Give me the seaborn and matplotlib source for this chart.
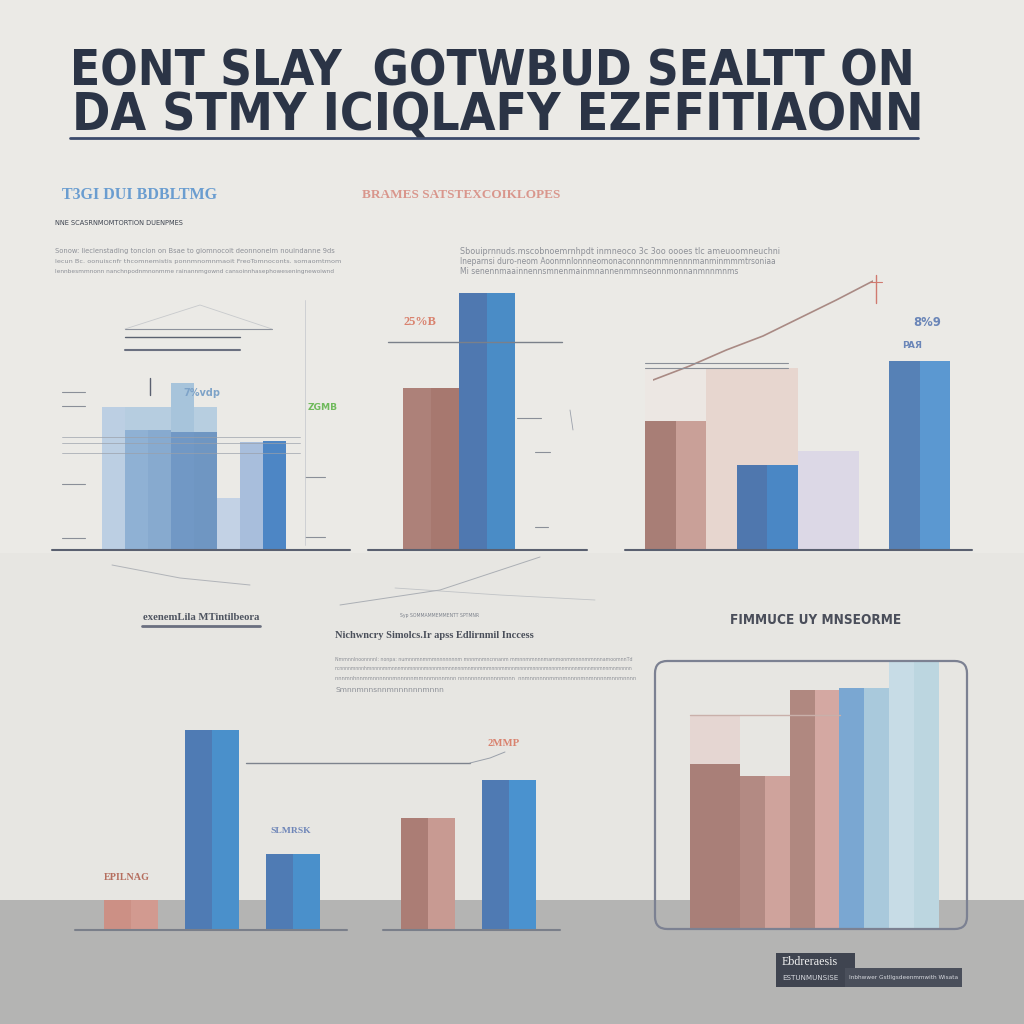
import numpy as np
import pandas as pd
import matplotlib
matplotlib.use("Agg")
import matplotlib.pyplot as plt
import seaborn as sns
from matplotlib.lines import Line2D
from matplotlib.patches import Rectangle, FancyBboxPatch

sns.set_theme(style="white")
plt.rcParams['font.family'] = ['DejaVu Sans']

W = H = 1024
fig = plt.figure(figsize=(10.24, 10.24), dpi=100)
fig.patch.set_facecolor('#ebeae6')
renderer = fig.canvas.get_renderer()


def fx(x):
    return x / W


def fy(y):
    return 1 - y / H


# ---------------- data ----------------
# panel 1 (top left, blues)
p1_slots = ["a1", "a2", "a3", "a4", "a5", "a6", "a7", "a8"]
p1_front = [143, 120, 120, 118, 118, 52, 108, 109]
p1_back = [0, 143, 143, 167, 143, 0, 0, 0]
p1_front_colors = ['#bccfe3', '#8fb1d4', '#87aacf', '#7198c5', '#6f96c2', '#c3d2e5', '#a8bedc', '#4d86c5']
p1_back_colors = ['#bcd0e4', '#a9c6df', '#a9c6df', '#96bbd9', '#aac7df', '#ffffff', '#ffffff', '#ffffff']

# panel 2 (top middle)
p2_slots = ["b1L", "b1R", "b2L", "b2R"]
p2_values = [162, 162, 257, 257]
p2_colors = ['#ad8179', '#a7786f', '#4f78b0', '#4a8cc6']

# panel 3 (top right)
p3_slots = ["c1L", "c1R", "c2", "c3L", "c3R", "c4L", "c4R", "gap", "c5L", "c5R"]
p3_front = [129, 129, 0, 85, 85, 99, 99, 0, 189, 189]
p3_back = [182, 182, 182, 182, 182, 0, 0, 0, 0, 0]
p3_front_colors = ['#a87e76', '#c9a098', '#e7d6cf', '#4f77ae', '#4a87c5', '#dcd8e6', '#dcd8e6',
                   '#ffffff', '#5681b6', '#5b98d1']
p3_back_colors = ['#ece7e3', '#ece7e3', '#e7d6cf', '#e7d6cf', '#e7d6cf', '#ffffff', '#ffffff',
                  '#ffffff', '#ffffff', '#ffffff']
p3_trend = [170, 184, 200, 214, 232, 250, 269]

# panel 4 (bottom left)
p4_slots = ["d1L", "d1R", "g1", "d2L", "d2R", "g2", "d3L", "d3R", "g3", "g4", "g5",
            "d4L", "d4R", "g6", "d5L", "d5R"]
p4_values = [30, 30, 0, 200, 200, 0, 76, 76, 0, 0, 0, 112, 112, 0, 150, 150]
p4_colors = ['#cc9085', '#d29a90', '#ffffff', '#4f7bb4', '#4a90cb', '#ffffff', '#4f7bb4', '#4a90cb',
             '#ffffff', '#ffffff', '#ffffff', '#ab7d75', '#c89a92', '#ffffff', '#4f7ab3', '#4a92cf']

# panel 5 (bottom right, framed)
p5_slots = ["e1L", "e1R", "e2L", "e2R", "e3L", "e3R", "e4L", "e4R", "e5L", "e5R"]
p5_front = [165, 165, 153, 153, 239, 239, 241, 241, 267, 267]
p5_back = [214, 214, 0, 0, 0, 0, 0, 0, 0, 0]
p5_front_colors = ['#a97f78', '#a97f78', '#b38a83', '#cfa39c', '#b08880', '#d4a8a2',
                   '#7aa7d2', '#a9c9dc', '#c7dce6', '#bcd6e0']
p5_back_colors = ['#e5d6d2'] * 10

# ---------------- background ----------------
fig.add_artist(Rectangle((0, fy(900)), 1, (900 - 553) / H, transform=fig.transFigure,
                         facecolor='#e7e6e2', edgecolor='none', zorder=-10))
fig.add_artist(Rectangle((0, 0), 1, (1024 - 900) / H, transform=fig.transFigure,
                         facecolor='#b4b4b3', edgecolor='none', zorder=-9))


def hline(x0, x1, y, color, lw=1.0, alpha=1.0, z=5):
    fig.add_artist(Line2D([fx(x0), fx(x1)], [fy(y), fy(y)], transform=fig.transFigure,
                          color=color, lw=lw, alpha=alpha, zorder=z))


def pline(xs, ys, color, lw=1.0, alpha=1.0, z=5):
    fig.add_artist(Line2D([fx(x) for x in xs], [fy(y) for y in ys], transform=fig.transFigure,
                          color=color, lw=lw, alpha=alpha, zorder=z))


def panel_axes(x0, unit, n, base, top=300):
    ax = fig.add_axes([fx(x0), fy(base), n * unit / W, top / H])
    ax.set_axis_off()
    ax.patch.set_alpha(0)
    return ax


def bars(ax, slots, values, colors, alpha=1.0):
    df = pd.DataFrame({'slot': slots, 'value': values})
    sns.barplot(data=df, x='slot', y='value', hue='slot', order=slots, hue_order=slots,
                palette=dict(zip(slots, colors)), width=1.0, dodge=False, saturation=1,
                linewidth=0, errorbar=None, legend=False, alpha=alpha, ax=ax)


def finish(ax, n, top=300):
    ax.set_xlim(-0.5, n - 0.5)
    ax.set_ylim(0, top)
    ax.set_axis_off()


# ---------------- panel 1 ----------------
ax1 = panel_axes(102, 23, 8, 550)
bars(ax1, p1_slots, p1_back, p1_back_colors, alpha=0.8)
bars(ax1, p1_slots, p1_front, p1_front_colors)
finish(ax1, 8)

# ---------------- panel 2 ----------------
ax2 = panel_axes(403, 28, 4, 550)
bars(ax2, p2_slots, p2_values, p2_colors)
finish(ax2, 4)

# ---------------- panel 3 ----------------
ax3 = panel_axes(645, 30.5, 10, 550)
bars(ax3, p3_slots, p3_back, p3_back_colors)
bars(ax3, p3_slots, p3_front, p3_front_colors)
finish(ax3, 10)

ax3l = fig.add_axes([fx(653), fy(550), (873 - 653) / W, 300 / H])
sns.lineplot(x=list(range(len(p3_trend))), y=p3_trend, color='#a98a84', lw=1.2, ax=ax3l)
ax3l.set_xlim(0, len(p3_trend) - 1)
ax3l.set_ylim(0, 300)
ax3l.set_axis_off()
ax3l.patch.set_alpha(0)

# ---------------- panel 4 ----------------
ax4 = panel_axes(104, 27, 16, 930)
bars(ax4, p4_slots, p4_values, p4_colors)
finish(ax4, 16)

# ---------------- panel 5 ----------------
ax5 = panel_axes(690, 24.9, 10, 929)
bars(ax5, p5_slots, p5_back, p5_back_colors)
bars(ax5, p5_slots, p5_front, p5_front_colors)
finish(ax5, 10)

fig.add_artist(FancyBboxPatch((fx(655), fy(929)), (967 - 655) / W, (929 - 661) / H,
                              boxstyle="round,pad=0,rounding_size=0.012",
                              transform=fig.transFigure, facecolor='none',
                              edgecolor='#7c8192', lw=1.6, zorder=6))

# ---------------- baselines & decorations ----------------
hline(52, 350, 550, '#5a6070', 1.5)
hline(368, 587, 550, '#5a6070', 1.5)
hline(625, 972, 550, '#5a6070', 1.5)
hline(75, 347, 930, '#7a7f8a', 1.5)
hline(383, 560, 930, '#7a7f8a', 1.5)

# panel 1 guides
hline(125, 272, 329, '#8d929c', 0.8)
hline(125, 240, 337, '#5b6270', 1.0)
hline(125, 240, 350, '#6a7080', 1.5)
pline([125, 200, 272], [329, 305, 329], '#b0b4bb', 0.6, 0.6)
for yy in (437, 443, 453):
    hline(62, 300, yy, '#9aa0aa', 0.6, 0.8)
for yy in (392, 406, 484, 538):
    hline(62, 85, yy, '#8a8f98', 0.8)
for yy in (477, 537):
    hline(305, 325, yy, '#8a8f98', 0.8)
pline([150, 150], [378, 395], '#5a6070', 1.0)
pline([305, 305], [300, 545], '#c9cbd0', 0.6)

# panel 2 guides
hline(388, 562, 342, '#7a808a', 1.0)
hline(517, 541, 418, '#8a8f98', 0.8)
hline(535, 550, 452, '#8a8f98', 0.8)
hline(535, 548, 527, '#8a8f98', 0.8)
pline([570, 573], [410, 430], '#9aa0aa', 0.6)

# panel 3 guides
hline(645, 788, 363, '#8a8f98', 0.8)
hline(645, 788, 368, '#8a8f98', 0.8)
pline([876, 876], [275, 303], '#d07a70', 1.0)
hline(870, 882, 282, '#d07a70', 0.8)

# panel 4 guides
hline(246, 470, 763, '#7d838d', 1.0)
pline([470, 490, 505], [763, 758, 752], '#9aa0aa', 0.7)

# panel 5 guide
hline(690, 840, 715, '#c9b0aa', 1.0)

# faint connecting lines between rows
pline([112, 180, 250], [565, 578, 585], '#a3a7ae', 0.7, 0.8)
pline([340, 440, 540], [605, 590, 557], '#9ca1a9', 0.7, 0.8)
pline([395, 500, 595], [588, 595, 600], '#b0b4ba', 0.6, 0.7)

# title underline
hline(70, 918, 138, '#3b4a6b', 2.0)


# ---------------- text ----------------
def fit_text(s, x0, x1, yc, color, weight='normal', family=None, alpha=1.0, stretch='normal'):
    fam = family or ['DejaVu Sans']
    t = fig.text(fx(x0), fy(yc), s, fontsize=10, color=color, weight=weight,
                 family=fam, ha='left', va='center', alpha=alpha, zorder=7,
                 fontstretch=stretch)
    bb = t.get_window_extent(renderer)
    t.set_fontsize(10 * (x1 - x0) / bb.width)
    return t


title_fam = ['DejaVu Sans']
fit_text("EONT SLAY  GOTWBUD SEALTT ON", 70, 915, 71, '#2b3446', 'bold', title_fam,
         stretch='condensed')
fit_text("DA STMY ICIQLAFY EZFFITIAONN", 72, 918, 116, '#2b3446', 'bold', title_fam,
         stretch='condensed')

serif = ['Liberation Serif', 'DejaVu Serif']
fit_text("T3GI DUI BDBLTMG", 62, 217, 195, '#6a9dd0', 'bold', serif)
fit_text("BRAMES SATSTEXCOIKLOPES", 362, 560, 195, '#d9968c', 'bold', serif)
fit_text("NNE SCASRNMOMTORTION DUENPMES", 55, 185, 223, '#3e4450')

para_col = '#8d9097'
fit_text("Sonow: lieclenstading toncion on Bsae to giomnocoit deonnoneim nouindanne 9ds", 55, 336, 251, para_col)
fit_text("lecun Bc. oonuiscnfr thcomnemistis ponnmnomnmaoit FreoTomnoconts. somaomtmom", 55, 336, 261, para_col)
fit_text("lennbesmmnonn nanchnpodnmnonmme rainannmgownd cansoinnhasephoweseningnewoiwnd", 55, 336, 271, para_col)

fit_text("Sbouiprnnuds.mscobnoemrnhpdt inmneoco 3c 3oo oooes tlc ameuoomneuchni", 460, 777, 251, para_col)
fit_text("Ineparnsi duro-neom Aoonmnlonnneomonaconnnonmmnennnmanminmmmtrsoniaa", 460, 777, 261, para_col)
fit_text("Mi senennmaainnennsmnenmainmnannenmmnseonnmonnanmnnmnms", 460, 735, 271, para_col)

fit_text("7%vdp", 183, 220, 393, '#7ea3c8', 'bold')
fit_text("ZGMB", 308, 338, 408, '#6fba5c', 'bold')
fit_text("25%B", 403, 436, 322, '#d9826e', 'bold', serif)
fit_text("8%9", 913, 941, 323, '#6b86b8', 'bold')
fit_text("PAЯ", 902, 922, 345, '#6b86b8', 'bold')

fit_text("exenemLila MTintilbeora", 143, 260, 617, '#4e5460', 'bold', serif)
hline(142, 260, 626, '#6b7080', 2.0)
fit_text("Syp SOMMAMMEMMENTT SPTMNR", 400, 480, 615, '#7d828c')
fit_text("Nichwncry Simolcs.Ir apss Edlirnmil Inccess", 335, 533, 635, '#4a4f5a', 'bold', serif)
fit_text("Nmmnnlnoonnnnl: nonpa: numnnmnmmmnnnnnnnm mnnmnmncnnanm mmnnmmnnnmammonmmnnnmmnnnamoomnnTd", 335, 635, 659, para_col)
fit_text("ncnnnnmnnnhmnnnnmmnnnmnmnnnnmnnnmnmnnnnnmnmnmmmnnnmmnnmnnnmnnnnmnnnmnmnnnmnnnmnmnnmnmnnnn", 335, 635, 669, para_col)
fit_text("nnnmnhnnmmnnnnnnmnnnnnmmnnmnnnmnn nnnnnnnnnnnnnmnnn  nnmnnnnnnmmnmnnnnmnmnnnnmnnmnnnn", 335, 635, 679, para_col)
fit_text("Smnnmnnsnnmnnnnnnmnnn", 335, 443, 690, para_col)

fit_text("FIMMUCE UY MNSEORME", 730, 900, 620, '#4a4e5a', 'bold', title_fam, stretch='condensed')

fit_text("SLMRSK", 270, 310, 831, '#6f86b8', 'bold', serif)
fit_text("EPILNAG", 104, 150, 877, '#b56e5e', 'bold', serif)
fit_text("2MMP", 488, 520, 743, '#d9826e', 'bold', serif)

# bottom-right legend block
fig.add_artist(Rectangle((fx(776), fy(987)), (855 - 776) / W, (987 - 953) / H,
                         transform=fig.transFigure, facecolor='#3f4450', edgecolor='none', zorder=6))
fig.add_artist(Rectangle((fx(845), fy(987)), (962 - 845) / W, (987 - 968) / H,
                         transform=fig.transFigure, facecolor='#4a4f5b', edgecolor='none', zorder=6))
fit_text("Ebdreraesis", 782, 838, 962, '#f2f2f2', 'normal', serif)
fit_text("ESTUNMUNSISE", 782, 838, 978, '#d8dae0')
fit_text("Inbhwwer Gstllgsdeenmmwith Wisata", 849, 958, 978, '#d8dae0')

fig.savefig("out.png", dpi=100, facecolor=fig.get_facecolor())
